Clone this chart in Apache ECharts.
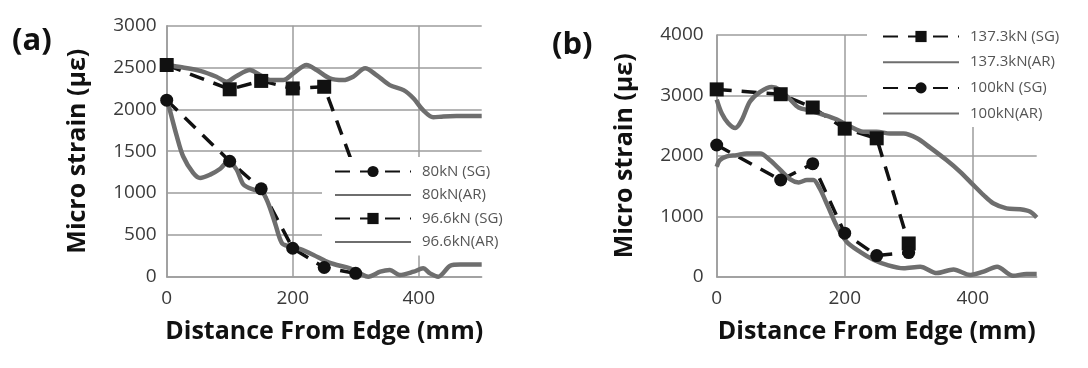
<!DOCTYPE html>
<html>
<head>
<meta charset="utf-8">
<script src="https://cdn.jsdelivr.net/npm/echarts@6/dist/echarts.min.js"></script>
<style>
html,body{margin:0;padding:0;background:#fff;}
#c{width:1088px;height:368px;}
</style>
</head>
<body>
<div id="c"></div>
<script>
// ---------- Panel (a) ----------
const sg80X = [0, 100, 150, 200, 250, 300];
const sg80Y = [2110, 1380, 1050, 340, 110, 40];
const sg96X = [0, 100, 150, 200, 250, 300];
const sg96Y = [2530, 2240, 2340, 2250, 2270, 1250];
const ar80X = [0, 5, 16, 26, 42, 53, 69, 85, 98, 111, 122, 138, 151, 161, 172, 183, 196, 212, 233, 254, 270, 291, 307, 320, 339, 354, 370, 392, 407, 418, 431, 450, 466, 500];
const ar80Y = [2130, 1990, 1680, 1440, 1240, 1180, 1220, 1290, 1380, 1280, 1100, 1040, 1020, 880, 640, 400, 360, 330, 260, 180, 140, 100, 40, 0, 60, 80, 20, 60, 100, 40, 0, 130, 145, 145];
const ar96X = [0, 26, 53, 79, 95, 111, 132, 148, 164, 185, 201, 222, 238, 259, 280, 296, 315, 333, 354, 376, 392, 407, 423, 439, 460, 500];
const ar96Y = [2530, 2500, 2460, 2390, 2330, 2400, 2470, 2410, 2350, 2350, 2430, 2530, 2470, 2370, 2350, 2390, 2490, 2410, 2290, 2230, 2130, 1990, 1905, 1915, 1920, 1920];

// ---------- Panel (b) ----------
const sg137X = [0, 100, 150, 200, 250, 300];
const sg137Y = [3100, 3020, 2800, 2450, 2290, 550];
const sg100X = [0, 100, 150, 200, 250, 300];
const sg100Y = [2180, 1600, 1870, 720, 350, 400];
const ar137X = [0, 8, 18, 29, 39, 52, 68, 86, 99, 115, 128, 146, 167, 188, 208, 229, 250, 271, 292, 313, 333, 359, 380, 398, 417, 432, 453, 474, 490, 500];
const ar137Y = [2930, 2700, 2540, 2460, 2590, 2900, 3060, 3140, 3090, 2930, 2800, 2750, 2680, 2600, 2490, 2400, 2400, 2370, 2370, 2290, 2140, 1930, 1740, 1550, 1350, 1215, 1130, 1115, 1075, 980];
const ar100X = [0, 5, 16, 31, 47, 68, 83, 99, 115, 128, 141, 151, 161, 174, 188, 203, 224, 245, 266, 292, 318, 344, 370, 396, 417, 438, 463, 484, 500];
const ar100Y = [1820, 1930, 1990, 2010, 2040, 2040, 1930, 1770, 1610, 1560, 1600, 1600, 1460, 1160, 830, 580, 410, 280, 195, 140, 165, 60, 120, 30, 85, 165, 15, 45, 45];

// ---------- Labels ----------
const panelLabels = ['(a)', '(b)'];
const xTitle = 'Distance From Edge (mm)';
const yTitle = 'Micro strain (με)';
const legendA = ['80kN (SG)', '80kN(AR)', '96.6kN (SG)', '96.6kN(AR)'];
const legendB = ['137.3kN (SG)', '137.3kN(AR)', '100kN (SG)', '100kN(AR)'];

const zip = (xs, ys) => xs.map((x, i) => [x, ys[i]]);
const FONT = '"Open Sans", "Noto Sans", sans-serif';
const GRIDC = '#9c9c9c';
const ARC = '#6e6e6e';
const SGC = '#111111';

function xAxis(gi) {
  return {
    gridIndex: gi, type: 'value', min: 0, max: 500, interval: 200,
    axisLine: {show: true, lineStyle: {color: GRIDC, width: 1.5}},
    axisTick: {show: false},
    splitLine: {show: true, showMaxLine: false, lineStyle: {color: GRIDC, width: 1.5}},
    axisLabel: {fontSize: 19, color: '#3a3a3a', margin: 12, showMaxLabel: false, fontFamily: FONT,
                formatter: v => String(v)},
    name: xTitle, nameLocation: 'middle', nameGap: 43,
    nameTextStyle: {fontSize: 25, fontWeight: 'bold', color: '#111', fontFamily: FONT}
  };
}
function yAxis(gi, max, interval, gap, margin) {
  return {
    gridIndex: gi, type: 'value', min: 0, max: max, interval: interval,
    axisLine: {show: true, lineStyle: {color: GRIDC, width: 1.5}},
    axisTick: {show: false},
    splitLine: {show: true, lineStyle: {color: GRIDC, width: 1.5}},
    axisLabel: {fontSize: 19, color: '#3a3a3a', margin: margin, fontFamily: FONT,
                formatter: v => String(v)},
    name: yTitle, nameLocation: 'middle', nameGap: gap, nameRotate: 90,
    nameTextStyle: {fontSize: 25, fontWeight: 'bold', color: '#111', fontFamily: FONT}
  };
}
function sgSeries(name, gi, xs, ys, sym) {
  return {
    name: name, type: 'line', xAxisIndex: gi, yAxisIndex: gi,
    data: zip(xs, ys), symbol: sym, symbolSize: sym === 'rect' ? 14 : 13,
    lineStyle: {color: SGC, width: 3.5, type: [15, 10]},
    itemStyle: {color: SGC}, z: 3
  };
}
function arSeries(name, gi, xs, ys) {
  return {
    name: name, type: 'line', xAxisIndex: gi, yAxisIndex: gi,
    data: zip(xs, ys), symbol: 'none', smooth: 0.3,
    lineStyle: {color: ARC, width: 4.5}, itemStyle: {color: ARC}, z: 3
  };
}
function legend(names, left, top, gap, padLeft) {
  return {
    data: names.map(n => n.indexOf('(AR)') >= 0 ? {name: n, itemStyle: {opacity: 0}} : {name: n}),
    orient: 'vertical', left: left, top: top,
    backgroundColor: '#ffffff', padding: [7, 40, 6, padLeft],
    itemWidth: 76, itemHeight: 14, itemGap: gap,
    textStyle: {fontSize: 15, color: '#555', fontFamily: FONT, padding: [0, 0, 0, 6]},
    z: 10
  };
}

const chart = echarts.init(document.getElementById('c'), null, {renderer: 'canvas'});
chart.setOption({
  animation: false,
  backgroundColor: '#ffffff',
  grid: [
    {left: 166.7, top: 25.7, width: 315, height: 251},
    {left: 716.7, top: 35, width: 320, height: 241.7}
  ],
  xAxis: [xAxis(0), xAxis(1)],
  yAxis: [yAxis(0, 3000, 500, 76, 10), yAxis(1, 4000, 1000, 79, 13)],
  legend: [legend(legendA, 322, 157, 8.5, 12), legend(legendB, 867, 22, 10.7, 15)],
  graphic: [
    {type: 'text', left: 12, top: 26, style: {text: panelLabels[0], fontSize: 31, fontWeight: 'bold', fontFamily: FONT, fill: '#111'}},
    {type: 'text', left: 552, top: 30, style: {text: panelLabels[1], fontSize: 31, fontWeight: 'bold', fontFamily: FONT, fill: '#111'}}
  ],
  series: [
    sgSeries(legendA[0], 0, sg80X, sg80Y, 'circle'),
    arSeries(legendA[1], 0, ar80X, ar80Y),
    sgSeries(legendA[2], 0, sg96X, sg96Y, 'rect'),
    arSeries(legendA[3], 0, ar96X, ar96Y),
    sgSeries(legendB[0], 1, sg137X, sg137Y, 'rect'),
    arSeries(legendB[1], 1, ar137X, ar137Y),
    sgSeries(legendB[2], 1, sg100X, sg100Y, 'circle'),
    arSeries(legendB[3], 1, ar100X, ar100Y)
  ]
});
</script>
</body>
</html>
